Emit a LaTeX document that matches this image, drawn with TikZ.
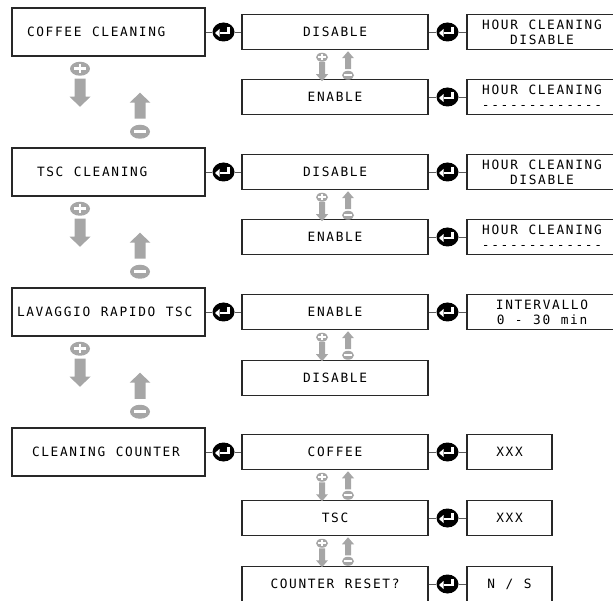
\documentclass[tikz,border=0pt]{standalone}
\usepackage{fontspec}
\usetikzlibrary{calc,shapes.geometric}
\newfontfamily\lcdfont[LetterSpace=13,Ligatures=TeXOff]{DejaVu Sans Mono}
\newcommand{\lcd}{\lcdfont\fontsize{12.8}{15}\selectfont\spaceskip=10.5pt\relax}
\definecolor{boxline}{RGB}{40,40,40}
\definecolor{icongray}{RGB}{166,166,166}
\definecolor{linkgray}{RGB}{90,90,90}

\tikzset{
  leftbox/.style={draw=boxline, line width=1.5pt, minimum width=193pt, minimum height=48pt, inner sep=0pt, font=\lcd},
  midbox/.style={draw=boxline, line width=1.5pt, minimum width=186pt, minimum height=35pt, inner sep=0pt, font=\lcd},
  rightbox/.style={midbox, minimum width=150pt, align=center},
  enterkey/.style={ellipse, fill=black, minimum width=22pt, minimum height=19pt, inner sep=0pt,
    path picture={
      \begin{scope}[shift={(path picture bounding box.center)}, x=1pt, y=1pt]
        \draw[white, line width=2.2pt] (5,5) -- (5,-1) -- (-4,-1);
        \fill[white] (-8.5,-1) -- (-4,3) -- (-4,-5) -- cycle;
      \end{scope}}},
  link/.style={draw=linkgray, line width=0.9pt},
  bigswap/.pic={
    \fill[icongray] (0,12) ellipse [x radius=10pt, y radius=7pt];
    \draw[white, line width=2.6pt] (-6,12) -- (6,12) (0,7.5) -- (0,16.5);
    \fill[icongray] (-5.5,22) -- (5.5,22) -- (5.5,40) -- (10.5,40) -- (0,50) -- (-10.5,40) -- (-5.5,40) -- cycle;
    \fill[icongray] (60,36) -- (70.5,46) -- (65.5,46) -- (65.5,62) -- (54.5,62) -- (54.5,46) -- (49.5,46) -- cycle;
    \fill[icongray] (60,75) ellipse [x radius=10pt, y radius=7pt];
    \draw[white, line width=2.6pt] (54,75) -- (66,75);
  },
  smallswap/.pic={
    \fill[icongray] (0,7) ellipse [x radius=6pt, y radius=4.5pt];
    \draw[white, line width=1.6pt] (-3.8,7) -- (3.8,7) (0,4) -- (0,10);
    \fill[icongray] (-3,12) -- (3,12) -- (3,24) -- (6,24) -- (0,31) -- (-6,24) -- (-3,24) -- cycle;
    \fill[icongray] (26,1) -- (32,8) -- (29,8) -- (29,19) -- (23,19) -- (23,8) -- (20,8) -- cycle;
    \fill[icongray] (26,25) ellipse [x radius=6pt, y radius=4.5pt];
    \draw[white, line width=1.6pt] (22.2,25) -- (29.8,25);
  }
}

\begin{document}
\begin{tikzpicture}[x=1pt,y=-1pt]
  \useasboundingbox (0,0) rectangle (613,601);

  % menu entries
  \node[leftbox] (coffee) at (108.5,32) {\makebox[183pt][l]{\hspace*{10pt}COFFEE CLEANING}};
  \node[leftbox] (tscclean) at (108.5,172) {\makebox[183pt][l]{\hspace*{20pt}TSC CLEANING}};
  \node[leftbox] (rapid) at (108.5,312) {\makebox[183pt][l]{LAVAGGIO RAPIDO TSC}};
  \node[leftbox] (counter) at (108.5,452) {\makebox[183pt][l]{\hspace*{15pt}CLEANING COUNTER}};

  % choices
  \node[midbox] (cofdis) at (335,32) {DISABLE};
  \node[midbox] (cofen) at (335,97) {ENABLE};
  \node[midbox] (tscdis) at (335,172) {DISABLE};
  \node[midbox] (tscen) at (335,237) {ENABLE};
  \node[midbox] (rapen) at (335,312) {ENABLE};
  \node[midbox] (rapdis) at (335,378) {DISABLE};
  \node[midbox] (cntcof) at (335,452) {COFFEE};
  \node[midbox] (cnttsc) at (335,518) {TSC};
  \node[midbox] (cntrst) at (335,584) {COUNTER RESET?};

  % values
  \node[rightbox] (cofdishr) at (542,32) {HOUR CLEANING\\DISABLE};
  \node[rightbox] (cofenhr) at (542,97) {HOUR CLEANING\\-------------};
  \node[rightbox] (tscdishr) at (542,172) {HOUR CLEANING\\DISABLE};
  \node[rightbox] (tscenhr) at (542,237) {HOUR CLEANING\\-------------};
  \node[rightbox] (rapint) at (542,312) {INTERVALLO\\0 - 30 min};
  \node[rightbox, minimum width=85pt] (cofxxx) at (509.5,452) {XXX};
  \node[rightbox, minimum width=85pt] (tscxxx) at (509.5,518) {XXX};
  \node[rightbox, minimum width=85pt] (rstns) at (509.5,584) {N / S};

  % enter keys
  \foreach \a/\b [count=\i] in {coffee/cofdis, tscclean/tscdis, rapid/rapen, counter/cntcof,
      cofdis/cofdishr, cofen/cofenhr, tscdis/tscdishr, tscen/tscenhr, rapen/rapint,
      cntcof/cofxxx, cnttsc/tscxxx, cntrst/rstns} {
    \node[enterkey] (ent\i) at ($(\a.east)!0.5!(\b.west)$) {};
    \draw[link] (\a) -- (ent\i) -- (\b);
  }

  % plus / minus
  \pic at ([xshift=-28.5pt]coffee.south) {bigswap};
  \pic at ([xshift=-28.5pt]tscclean.south) {bigswap};
  \pic at ([xshift=-28.5pt]rapid.south) {bigswap};
  \pic at ([xshift=-13pt]cofdis.south) {smallswap};
  \pic at ([xshift=-13pt]tscdis.south) {smallswap};
  \pic at ([xshift=-13pt]rapen.south) {smallswap};
  \pic at ([xshift=-13pt]cntcof.south) {smallswap};
  \pic at ([xshift=-13pt]cnttsc.south) {smallswap};
\end{tikzpicture}
\end{document}
